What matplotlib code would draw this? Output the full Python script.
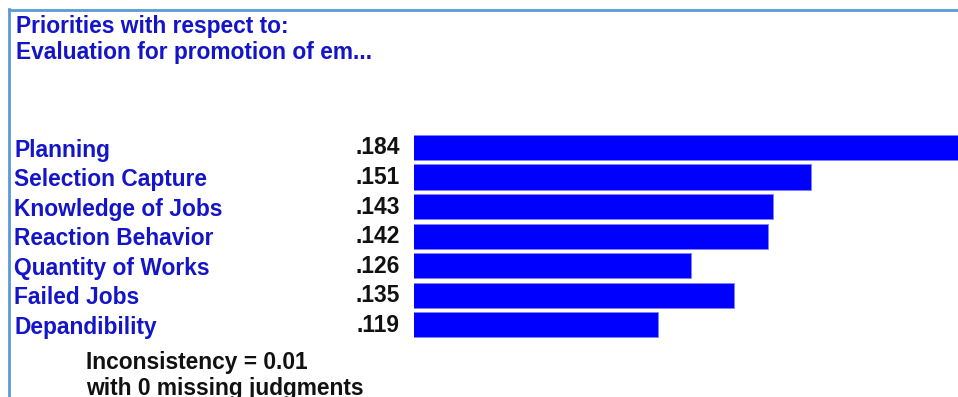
import matplotlib
matplotlib.use("Agg")
import matplotlib.pyplot as plt
from matplotlib.lines import Line2D

plt.rcParams['font.family'] = ['Liberation Sans', 'DejaVu Sans']

categories = ["Planning", "Selection Capture", "Knowledge of Jobs", "Reaction Behavior",
              "Quantity of Works", "Failed Jobs", "Depandibility"]
values = [0.184, 0.151, 0.143, 0.142, 0.126, 0.135, 0.119]
value_labels = [".184", ".151", ".143", ".142", ".126", ".135", ".119"]
title_lines = ["Priorities with respect to:", "Evaluation for promotion of em..."]
footer_lines = ["Inconsistency = 0.01", "with 0 missing judgments"]

W, H = 958, 397
fig = plt.figure(figsize=(W / 100, H / 100), dpi=100)
fig.patch.set_facecolor("white")

# frame lines (light blue border at left and top)
border = "#5B9BD5"
fig.add_artist(Line2D([8.5 / W, 8.5 / W], [0, 1 - 9 / H], transform=fig.transFigure,
                      color=border, lw=2))
fig.add_artist(Line2D([8.5 / W, 1], [1 - 9.5 / H, 1 - 9.5 / H], transform=fig.transFigure,
                      color=border, lw=2))

# bar axes: left at 414 px, right at 958 px
step = 29.53
top_center = 147.5
n = len(values)
ax_top = top_center - step / 2
ax_bot = top_center + step * (n - 1) + step / 2
ax = fig.add_axes([414 / W, 1 - ax_bot / H, (W - 414) / W, (ax_bot - ax_top) / H])
ypos = list(range(n))
ax.barh(ypos, values, height=0.85, color="#0000FF", edgecolor="#8080FF", linewidth=0.6)
ax.set_xlim(0.0682, 0.0682 + (W - 414) / 4794)
ax.set_ylim(n - 0.5, -0.5)
ax.axis("off")

fs = 16.4
label_color = "#1414C8"
for i, (cat, lab) in enumerate(zip(categories, value_labels)):
    yc = top_center + step * i
    fig.text(14 / W, 1 - (yc + 2.5) / H, cat, ha="left", va="center", fontsize=fs,
             fontweight="bold", color=label_color)
    fig.text(400 / W, 1 - (yc + 0.5) / H, lab, ha="right", va="center", fontsize=fs,
             fontweight="bold", color="#111111")

for j, t in enumerate(title_lines):
    fig.text(16 / W, 1 - (27 + 25 * j) / H, t, ha="left", va="center", fontsize=fs,
             fontweight="bold", color=label_color)

for j, t in enumerate(footer_lines):
    fig.text(86 / W, 1 - (362 + 26 * j) / H, t, ha="left", va="center", fontsize=fs,
             fontweight="bold", color="#111111")

fig.savefig("out.png", dpi=100)
